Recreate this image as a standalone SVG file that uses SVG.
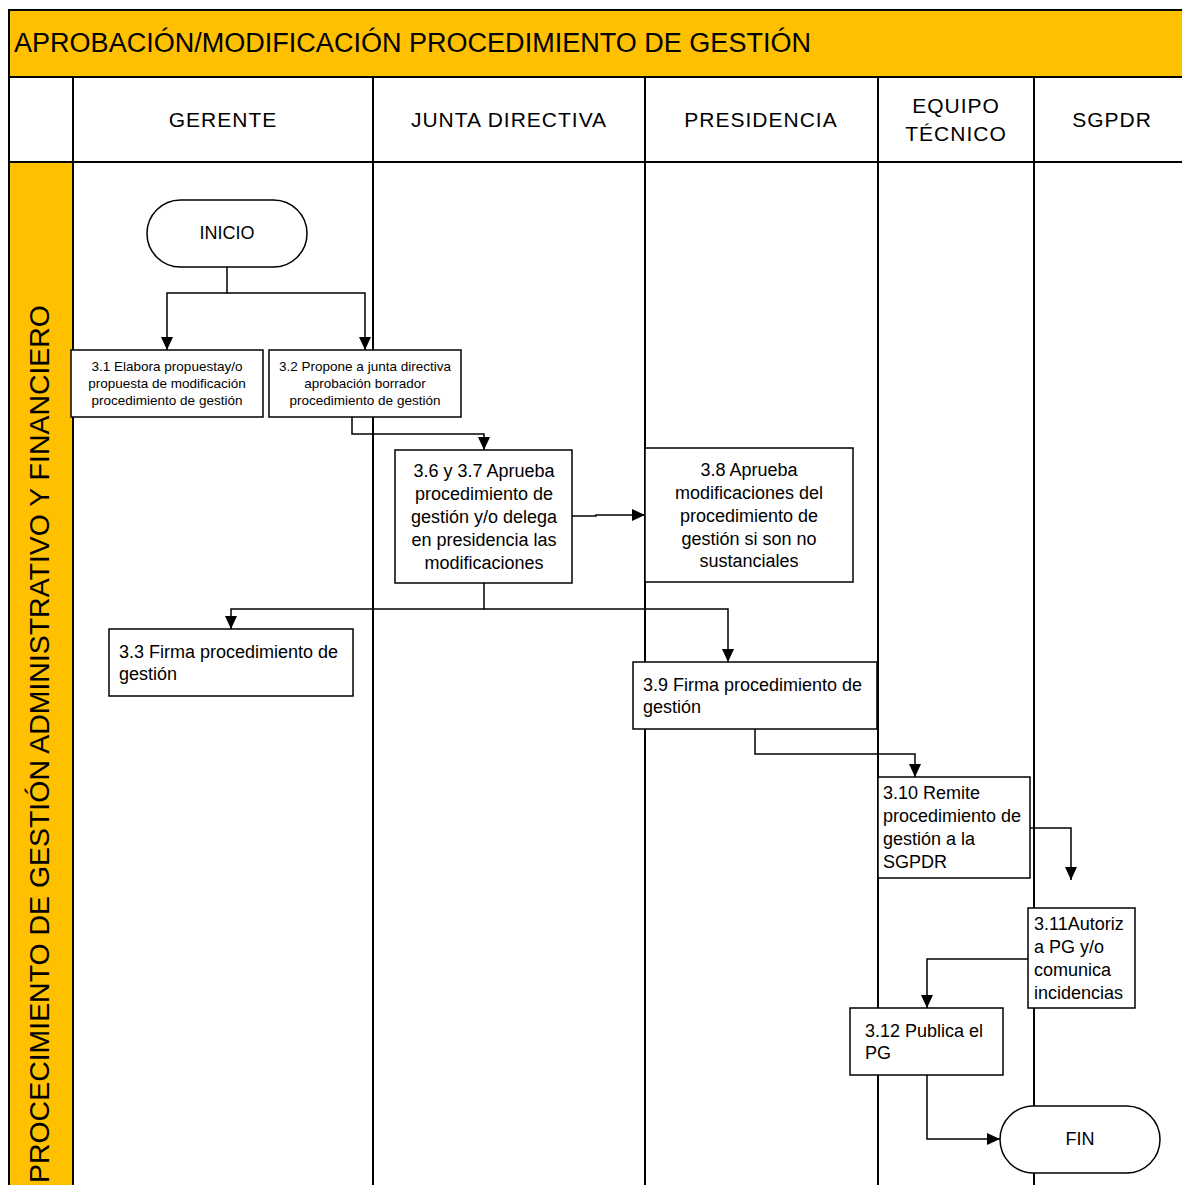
<svg xmlns="http://www.w3.org/2000/svg" width="1182" height="1185" viewBox="0 0 1182 1185">
  <style>
    text { font-family: "Liberation Sans", Arial, sans-serif; fill: #000; }
    .lane { stroke: #000; stroke-width: 2; fill: none; }
    .box { fill: #fff; stroke: #000; stroke-width: 1.5; }
    .conn { fill: none; stroke: #000; stroke-width: 1.5; }
    .head { font-size: 21px; letter-spacing: 1px; text-anchor: middle; }
    .t18 { font-size: 18px; }
    .t13 { font-size: 13.5px; text-anchor: middle; }
    .mid { text-anchor: middle; }
  </style>
  <defs>
    <marker id="arrow" markerUnits="userSpaceOnUse" markerWidth="13" markerHeight="12" refX="13" refY="6" orient="auto">
      <path d="M0,0 L13,6 L0,12 z" fill="#000"/>
    </marker>
  </defs>

  <rect width="1182" height="1185" fill="#fff"/>

  <!-- title band and pool frame -->
  <g id="pool">
    <rect x="9" y="10" width="1180" height="67" fill="#FFC000" stroke="#000" stroke-width="2"/>
    <rect x="9" y="162" width="64" height="1030" fill="#FFC000" stroke="#000" stroke-width="2"/>
    <line class="lane" x1="9" y1="77" x2="9" y2="1185"/>
    <line class="lane" x1="9" y1="162" x2="1182" y2="162"/>
    <line class="lane" x1="73" y1="77" x2="73" y2="1185"/>
    <line class="lane" x1="373" y1="77" x2="373" y2="1185"/>
    <line class="lane" x1="645" y1="77" x2="645" y2="1185"/>
    <line class="lane" x1="878" y1="77" x2="878" y2="1185"/>
    <line class="lane" x1="1034" y1="77" x2="1034" y2="1185"/>
    <text x="14" y="52" font-size="27" textLength="797" lengthAdjust="spacingAndGlyphs">APROBACIÓN/MODIFICACIÓN PROCEDIMIENTO DE GESTIÓN</text>
    <text transform="translate(49,1183) rotate(-90)" font-size="27" textLength="878" lengthAdjust="spacingAndGlyphs">PROCECIMIENTO DE GESTIÓN ADMINISTRATIVO Y FINANCIERO</text>
    <text class="head" x="223" y="127">GERENTE</text>
    <text class="head" x="509" y="127">JUNTA DIRECTIVA</text>
    <text class="head" x="761" y="127">PRESIDENCIA</text>
    <text class="head" x="956" y="113">EQUIPO</text>
    <text class="head" x="956" y="141">TÉCNICO</text>
    <text class="head" x="1112" y="127">SGPDR</text>
  </g>

  <!-- connectors -->
  <g id="connectors">
    <path class="conn" d="M227,267 V293 H167 V350" marker-end="url(#arrow)"/>
    <path class="conn" d="M227,293 H365 V350" marker-end="url(#arrow)"/>
    <path class="conn" d="M352,417 V434 H484 V450" marker-end="url(#arrow)"/>
    <path class="conn" d="M572,516 H596 V515 H645" marker-end="url(#arrow)"/>
    <path class="conn" d="M484,583 V609 H231 V629" marker-end="url(#arrow)"/>
    <path class="conn" d="M484,609 H728 V662" marker-end="url(#arrow)"/>
    <path class="conn" d="M755,729 V754 H915 V777" marker-end="url(#arrow)"/>
    <path class="conn" d="M1030,828 H1071 V880" marker-end="url(#arrow)"/>
    <path class="conn" d="M1028,959 H927 V1008" marker-end="url(#arrow)"/>
    <path class="conn" d="M927,1075 V1139 H1000" marker-end="url(#arrow)"/>
  </g>

  <g id="inicio">
    <rect class="box" x="147" y="200" width="160" height="67" rx="33.5"/>
    <text class="mid" x="227" y="239" font-size="18">INICIO</text>
  </g>

  <g id="n3_1">
    <rect class="box" x="71" y="350" width="192" height="67"/>
    <text class="t13" x="167" y="371">3.1 Elabora propuestay/o</text>
    <text class="t13" x="167" y="388">propuesta de modificación</text>
    <text class="t13" x="167" y="405">procedimiento de gestión</text>
  </g>

  <g id="n3_2">
    <rect class="box" x="269" y="350" width="192" height="67"/>
    <text class="t13" x="365" y="371">3.2 Propone a junta directiva</text>
    <text class="t13" x="365" y="388">aprobación borrador</text>
    <text class="t13" x="365" y="405">procedimiento de gestión</text>
  </g>

  <g id="n3_6">
    <rect class="box" x="395" y="450" width="177" height="133"/>
    <text class="t18 mid" x="484" y="477">3.6 y 3.7 Aprueba</text>
    <text class="t18 mid" x="484" y="500">procedimiento de</text>
    <text class="t18 mid" x="484" y="523">gestión y/o delega</text>
    <text class="t18 mid" x="484" y="546">en presidencia las</text>
    <text class="t18 mid" x="484" y="569">modificaciones</text>
  </g>

  <g id="n3_8">
    <rect class="box" x="645" y="448" width="208" height="134"/>
    <text class="t18 mid" x="749" y="476">3.8 Aprueba</text>
    <text class="t18 mid" x="749" y="499">modificaciones del</text>
    <text class="t18 mid" x="749" y="522">procedimiento de</text>
    <text class="t18 mid" x="749" y="545">gestión si son no</text>
    <text class="t18 mid" x="749" y="567">sustanciales</text>
  </g>

  <g id="n3_3">
    <rect class="box" x="109" y="629" width="244" height="67"/>
    <text class="t18" x="119" y="658">3.3 Firma procedimiento de</text>
    <text class="t18" x="119" y="680">gestión</text>
  </g>

  <g id="n3_9">
    <rect class="box" x="633" y="662" width="244" height="67"/>
    <text class="t18" x="643" y="691">3.9 Firma procedimiento de</text>
    <text class="t18" x="643" y="713">gestión</text>
  </g>

  <g id="n3_10">
    <rect class="box" x="878" y="777" width="152" height="101"/>
    <text class="t18" x="883" y="799">3.10 Remite</text>
    <text class="t18" x="883" y="822">procedimiento de</text>
    <text class="t18" x="883" y="845">gestión a la</text>
    <text class="t18" x="883" y="868">SGPDR</text>
  </g>

  <g id="n3_11">
    <rect class="box" x="1028" y="908" width="107" height="100"/>
    <text class="t18" x="1034" y="930">3.11Autoriz</text>
    <text class="t18" x="1034" y="953">a PG y/o</text>
    <text class="t18" x="1034" y="976">comunica</text>
    <text class="t18" x="1034" y="999">incidencias</text>
  </g>

  <g id="n3_12">
    <rect class="box" x="850" y="1008" width="153" height="67"/>
    <text class="t18" x="865" y="1037">3.12 Publica el</text>
    <text class="t18" x="865" y="1059">PG</text>
  </g>

  <g id="fin">
    <rect class="box" x="1000" y="1106" width="160" height="67" rx="33.5"/>
    <text class="mid" x="1080" y="1145" font-size="18">FIN</text>
  </g>
</svg>
